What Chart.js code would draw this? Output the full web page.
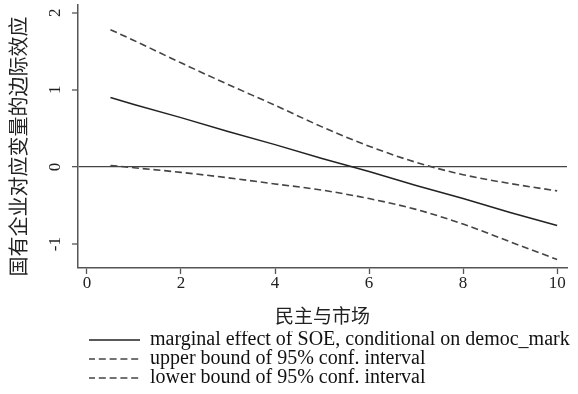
<!DOCTYPE html>
<html>
<head>
<meta charset="utf-8">
<script src="https://cdn.jsdelivr.net/npm/chart.js@4/dist/chart.umd.min.js"></script>
<style>
  html, body { margin: 0; padding: 0; background: #fff; }
  #wrap { width: 578px; height: 394px; position: relative; }
</style>
</head>
<body>
<div id="wrap"><canvas id="c" width="578" height="394"></canvas></div>
<script>
// ---- data ----
const xValues = [0.5, 1, 2, 3, 4, 5, 6, 7, 8, 9, 10];
const marginalEffect = [0.90, 0.81, 0.64, 0.46, 0.29, 0.11, -0.06, -0.24, -0.41, -0.59, -0.76];
const upperBound = [1.78, 1.64, 1.35, 1.07, 0.80, 0.52, 0.27, 0.06, -0.10, -0.215, -0.31];
const lowerBound = [0.02, -0.01, -0.07, -0.14, -0.22, -0.30, -0.41, -0.55, -0.74, -0.97, -1.20];
const xTicks = [0, 2, 4, 6, 8, 10];
const yTicks = [-1, 0, 1, 2];
const seriesLabels = [
  'marginal effect of SOE, conditional on democ_mark',
  'upper bound of 95% conf. interval',
  'lower bound of 95% conf. interval'
];
const xTitle = '民主与市场';
const yTitle = '国有企业对应变量的边际效应\u3000';

const toPoints = ys => xValues.map((x, i) => ({ x: x, y: ys[i] }));
const serif = "'Liberation Serif', 'DejaVu Serif', serif";
const cjk = "'Noto Sans CJK SC', sans-serif";
const dash = [7, 3.8];

const legendShift = {
  id: 'legendShift',
  afterLayout(chart) {
    const lg = chart.legend;
    if (lg) { lg.left = 89; lg.right = 578; lg.width = lg.right - lg.left; }
  }
};

new Chart(document.getElementById('c'), {
  type: 'line',
  data: {
    datasets: [
      { label: seriesLabels[0], data: toPoints(marginalEffect), borderColor: '#222', borderWidth: 1.5,
        pointRadius: 0, tension: 0, fill: false },
      { label: seriesLabels[1], data: toPoints(upperBound), borderColor: '#444', borderWidth: 1.6,
        borderDash: dash, pointRadius: 0, cubicInterpolationMode: 'monotone', fill: false },
      { label: seriesLabels[2], data: toPoints(lowerBound), borderColor: '#444', borderWidth: 1.6,
        borderDash: dash, pointRadius: 0, cubicInterpolationMode: 'monotone', fill: false }
    ]
  },
  options: {
    responsive: false,
    animation: false,
    events: [],
    layout: { padding: { left: 0, right: 11, top: 5, bottom: 0 } },
    plugins: {
      tooltip: { enabled: false },
      legend: {
        position: 'bottom',
        align: 'start',
        maxHeight: 63,
        labels: {
          usePointStyle: true,
          pointStyle: 'line',
          pointStyleWidth: 52,
          padding: -1,
          color: '#111',
          font: { family: serif, size: 20 },
          generateLabels(chart) {
            const items = Chart.defaults.plugins.legend.labels.generateLabels(chart);
            items.forEach(it => {
              const ds = chart.data.datasets[it.datasetIndex];
              it.lineDash = ds.borderDash || [];
              it.lineWidth = ds.borderWidth;
              it.strokeStyle = ds.borderColor;
              it.pointStyle = 'line';
            });
            return items;
          }
        }
      }
    },
    scales: {
      x: {
        type: 'linear',
        min: -0.19,
        max: 10.21,
        afterBuildTicks: s => { s.ticks = xTicks.map(v => ({ value: v })); },
        afterFit: s => { s.height = 63; s.paddingLeft = 0; s.paddingRight = 0; },
        border: { display: true, color: '#555', width: 1.5 },
        grid: { drawOnChartArea: false, drawTicks: true, tickLength: 6, tickColor: '#555', tickWidth: 1.3 },
        ticks: { color: '#222', padding: -1, maxRotation: 0, font: { family: serif, size: 17 } },
        title: { display: true, text: xTitle, color: '#222', font: { family: cjk, size: 19 }, padding: { top: 0, bottom: 4 } }
      },
      y: {
        type: 'linear',
        min: -1.31,
        max: 2.1,
        afterBuildTicks: s => { s.ticks = yTicks.map(v => ({ value: v })); },
        afterFit: s => { s.width = 78; s.paddingTop = 0; s.paddingBottom = 0; },
        border: { display: true, color: '#555', width: 1.5 },
        grid: {
          drawOnChartArea: true,
          drawTicks: true,
          tickLength: 6,
          tickColor: '#555',
          tickWidth: 1.3,
          color: ctx => (ctx.tick && ctx.tick.value === 0 ? '#444' : 'rgba(0,0,0,0)'),
          lineWidth: ctx => (ctx.tick && ctx.tick.value === 0 ? 1.3 : 0)
        },
        ticks: { color: '#222', padding: 9, minRotation: 90, maxRotation: 90, crossAlign: 'center',
                 font: { family: serif, size: 17 } },
        title: { display: true, text: yTitle, color: '#222', font: { family: cjk, size: 20 }, padding: { top: 6, bottom: 0 } }
      }
    }
  },
  plugins: [legendShift]
});
</script>
</body>
</html>
